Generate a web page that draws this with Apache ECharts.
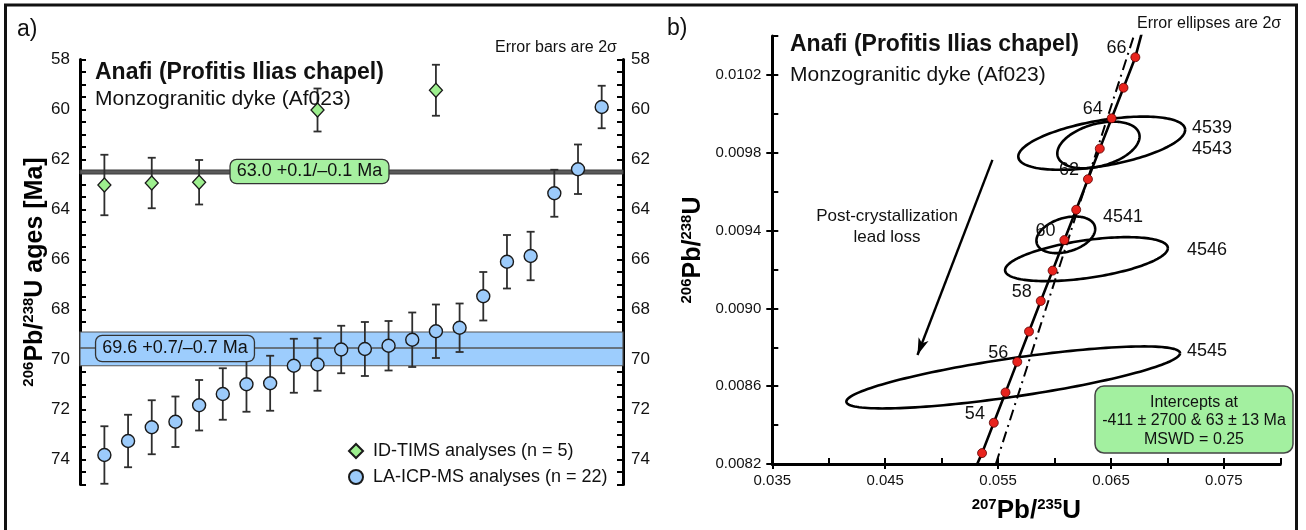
<!DOCTYPE html>
<html><head><meta charset="utf-8">
<script src="https://cdn.jsdelivr.net/npm/echarts@6/dist/echarts.min.js"></script>
<style>html,body{margin:0;padding:0;background:#fff}#c{width:1306px;height:530px}</style>
</head><body><div id="c"></div>
<script>
const FF = '"Liberation Sans", Arial, sans-serif';

// ---------- Panel a: 206Pb/238U ages ----------
const laRank = [1,2,3,4,5,6,7,8,9,10,11,12,13,14,15,16,17,18,19,20,21,22];
const laAge  = [73.82,73.26,72.71,72.49,71.83,71.38,70.99,70.95,70.25,70.20,69.60,69.58,69.45,69.21,68.87,68.73,67.47,66.09,65.86,63.35,62.39,59.90];
const laErr  = [1.15,1.05,1.08,1.01,1.01,1.03,1.10,1.10,1.08,1.05,0.95,1.08,0.99,1.09,1.07,0.97,0.97,1.07,0.97,0.94,0.99,0.85];
const timsRank = [1,3,5,10,15];
const timsAge  = [63.02,62.94,62.91,60.02,59.23];
const timsErr  = [1.21,1.01,0.89,0.86,1.02];
const timsBand = [62.42, 62.58];
const laMean = 69.55;
const laBand = [68.9, 70.25];
const ageTicks = [58,58.5,59,59.5,60,60.5,61,61.5,62,62.5,63,63.5,64,64.5,65,65.5,66,66.5,67,67.5,68,68.5,69,69.5,70,70.5,71,71.5,72,72.5,73,73.5,74,74.5,75];
const ageLabels = [58,60,62,64,66,68,70,72,74];

// ---------- Panel b: concordia ----------
const concAge = [53,54,55,56,57,58,59,60,61,62,63,64,65,66];
const concX = [0.05358,0.05462,0.05566,0.05670,0.05774,0.05878,0.05983,0.06087,0.06192,0.06296,0.06401,0.06506,0.06611,0.06716];
const concY = [0.008256,0.008412,0.008568,0.008725,0.008881,0.009038,0.009194,0.009351,0.009507,0.009664,0.009821,0.009977,0.010134,0.010291];
const concEndLow = [0.05315, 0.0082];
const concEndHigh = [0.06775, 0.01042];
const discX = [0.0548, 0.0673];
const discY = [0.0082, 0.01045];
const ellName = ['4539','4543','4541','4546','4545'];
const ellX   = [0.06418,0.06389,0.06100,0.06283,0.05634];
const ellY   = [0.009849,0.009840,0.009378,0.009253,0.008645];
const ellSx  = [0.00739,0.003644,0.002603,0.00721,0.01478];
const ellSy  = [0.0001368,0.0001198,0.0000941,0.0001131,0.0001594];
const ellRho = [0.5,0.36,0.32,0.5,0.78];
const arrowFrom = [0.0545, 0.009763];
const arrowTo = [0.04786, 0.00876];
const xTicks = [0.035,0.04,0.045,0.05,0.055,0.06,0.065,0.07,0.075,0.08];
const xLabels = [0.035,0.045,0.055,0.065,0.075];
const yTicks = [0.0082,0.0084,0.0086,0.0088,0.0090,0.0092,0.0094,0.0096,0.0098,0.0100,0.0102,0.0104];
const yLabels = [0.0082,0.0086,0.0090,0.0094,0.0098,0.0102];

const chart = echarts.init(document.getElementById('c'), null, {renderer:'canvas'});

function errRender(params, api){
  const x = api.value(0), lo = api.value(1), hi = api.value(2);
  const p1 = api.coord([x, lo]), p2 = api.coord([x, hi]);
  const w = 4, st = {stroke:'#2e2e2e', lineWidth:1.8};
  return {type:'group', children:[
    {type:'line', shape:{x1:p1[0],y1:p1[1],x2:p2[0],y2:p2[1]}, style:st},
    {type:'line', shape:{x1:p1[0]-w,y1:p1[1],x2:p1[0]+w,y2:p1[1]}, style:st},
    {type:'line', shape:{x1:p2[0]-w,y1:p2[1],x2:p2[0]+w,y2:p2[1]}, style:st}
  ]};
}
function ellRender(params, api){
  const x0=api.value(0), y0=api.value(1), sx=api.value(2), sy=api.value(3), r=api.value(4);
  const q = Math.sqrt(1-r*r), pts=[], n=160;
  for(let k=0;k<=n;k++){
    const t = 2*Math.PI*k/n;
    pts.push(api.coord([x0+sx*Math.cos(t), y0+sy*(r*Math.cos(t)+q*Math.sin(t))]));
  }
  return {type:'polyline', shape:{points:pts}, style:{stroke:'#000', lineWidth:2.6, fill:'none'}};
}

const axLine = {show:true, onZero:false, lineStyle:{color:'#000', width:3}};
const supRich = (fs, sfs) => ({
  b:{fontSize:fs, fontWeight:'bold', fontFamily:FF, color:'#000', lineHeight:fs+2},
  s:{fontSize:sfs, fontWeight:'bold', fontFamily:FF, color:'#000', lineHeight:sfs, verticalAlign:'top'}
});

const option = {
  animation:false,
  backgroundColor:'#fff',
  grid:[
    {left:80, top:59.5, width:543, height:425},
    {left:772.3, top:36, width:508, height:428}
  ],
  xAxis:[
    {gridIndex:0, type:'value', min:-0.03, max:22.9, show:false},
    {gridIndex:1, type:'value', min:0.035, max:0.08, position:'bottom',
      axisLine:axLine, splitLine:{show:false},
      axisTick:{show:true, inside:true, length:6, customValues:xTicks, lineStyle:{color:'#000', width:2}},
      axisLabel:{customValues:xLabels, formatter:v=>v.toFixed(3), fontSize:15, fontFamily:FF, color:'#111', margin:9},
      name:'{s|207}{b|Pb/}{s|235}{b|U}', nameLocation:'middle', nameGap:33,
      nameTextStyle:{rich:supRich(26,15)}},
    {gridIndex:1, type:'value', min:0.035, max:0.08, position:'bottom',
      axisLine:{show:false, onZero:false}, splitLine:{show:false}, axisLabel:{show:false},
      axisTick:{show:true, inside:false, length:5, customValues:xLabels, lineStyle:{color:'#000', width:2}}}
  ],
  yAxis:[
    {gridIndex:0, type:'value', inverse:true, min:58, max:75, position:'left',
      axisLine:axLine, splitLine:{show:false},
      axisTick:{show:true, inside:true, length:6, customValues:ageTicks, lineStyle:{color:'#000', width:2}},
      axisLabel:{customValues:ageLabels, fontSize:17, fontFamily:FF, color:'#111', margin:10},
      name:'{s|206}{b|Pb/}{s|238}{b|U ages [Ma]}', nameLocation:'middle', nameGap:30,
      nameTextStyle:{rich:supRich(25,15)}},
    {gridIndex:0, type:'value', inverse:true, min:58, max:75, position:'right',
      axisLine:axLine, splitLine:{show:false},
      axisTick:{show:true, inside:true, length:6, customValues:ageTicks, lineStyle:{color:'#000', width:2}},
      axisLabel:{customValues:ageLabels, fontSize:17, fontFamily:FF, color:'#111', margin:8}},
    {gridIndex:1, type:'value', min:0.0082, max:0.0104, position:'left',
      axisLine:axLine, splitLine:{show:false},
      axisTick:{show:true, inside:true, length:6, customValues:yTicks, lineStyle:{color:'#000', width:2}},
      axisLabel:{customValues:yLabels, formatter:v=>v.toFixed(4), fontSize:15, fontFamily:FF, color:'#111', margin:11},
      name:'{s|206}{b|Pb/}{s|238}{b|U}', nameLocation:'middle', nameGap:66,
      nameTextStyle:{rich:supRich(25,15)}},
    {gridIndex:1, type:'value', min:0.0082, max:0.0104, position:'left',
      axisLine:{show:false, onZero:false}, splitLine:{show:false}, axisLabel:{show:false},
      axisTick:{show:true, inside:false, length:6, customValues:yLabels, lineStyle:{color:'#000', width:2}}}
  ],
  legend:{
    left:343, top:437, orient:'vertical', itemWidth:14, itemHeight:14, itemGap:8,
    textStyle:{fontSize:18, fontFamily:FF, color:'#111', padding:[0,0,0,5]},
    data:['ID-TIMS analyses (n = 5)','LA-ICP-MS analyses (n = 22)']
  },
  series:[
    {type:'custom', name:'laErr', xAxisIndex:0, yAxisIndex:0, z:8, renderItem:errRender,
      encode:{x:0, y:[1,2]},
      data:laRank.map((r,i)=>[r, laAge[i]-laErr[i], laAge[i]+laErr[i]]),
      markArea:{silent:true, z:1, data:[
        [{yAxis:laBand[0], itemStyle:{color:'#9dcdfd', borderColor:'#555', borderWidth:1.2}},{yAxis:laBand[1]}],
        [{yAxis:timsBand[0], itemStyle:{color:'#5a5a5a', borderColor:'#3a3a3a', borderWidth:1}},{yAxis:timsBand[1]}]
      ]},
      markLine:{silent:true, z:2, symbol:['none','none'], label:{show:false},
        lineStyle:{type:'solid', color:'#555', width:1.5},
        data:[{yAxis:laMean}]}
    },
    {type:'custom', name:'timsErr', xAxisIndex:0, yAxisIndex:0, z:8, renderItem:errRender,
      encode:{x:0, y:[1,2]},
      data:timsRank.map((r,i)=>[r, timsAge[i]-timsErr[i], timsAge[i]+timsErr[i]])},
    {type:'scatter', name:'LA-ICP-MS analyses (n = 22)', xAxisIndex:0, yAxisIndex:0, z:10,
      symbol:'circle', symbolSize:13,
      itemStyle:{color:'#9ccbfb', borderColor:'#1a1a1a', borderWidth:1.4, opacity:1},
      data:laRank.map((r,i)=>[r, laAge[i]])},
    {type:'scatter', name:'ID-TIMS analyses (n = 5)', xAxisIndex:0, yAxisIndex:0, z:10,
      symbol:'diamond', symbolSize:[13,14],
      itemStyle:{color:'#9def8e', borderColor:'#1a1a1a', borderWidth:1.3, opacity:1},
      data:timsRank.map((r,i)=>[r, timsAge[i]])},

    {type:'custom', name:'ellipses', xAxisIndex:1, yAxisIndex:2, z:4, renderItem:ellRender,
      encode:{x:0, y:1},
      data:ellName.map((n,i)=>[ellX[i], ellY[i], ellSx[i], ellSy[i], ellRho[i]])},
    {type:'line', name:'concordia', xAxisIndex:1, yAxisIndex:2, z:5, symbol:'none', clip:true,
      lineStyle:{color:'#000', width:2.6},
      data:[concEndLow].concat(concX.map((x,i)=>[x, concY[i]])).concat([concEndHigh]),
      markLine:{silent:true, symbol:['none','arrow'], symbolSize:[8,17], label:{show:false},
        lineStyle:{type:'solid', color:'#000', width:2.4},
        data:[[{coord:arrowFrom},{coord:arrowTo}]]}
    },
    {type:'line', name:'discordia', xAxisIndex:1, yAxisIndex:2, z:5, symbol:'none', clip:true,
      lineStyle:{color:'#000', width:2, type:[11,5,2,5]},
      data:discX.map((x,i)=>[x, discY[i]])},
    {type:'scatter', name:'ages', xAxisIndex:1, yAxisIndex:2, z:7, symbol:'circle', symbolSize:9,
      itemStyle:{color:'#e8231d', borderColor:'#5a0000', borderWidth:0.8, opacity:1},
      label:{show:true, position:'left', distance:4, offset:[0,-9], fontSize:18, fontFamily:FF, color:'#111',
        formatter:p=>(p.value[2]%2===0 ? String(p.value[2]) : '')},
      data:concAge.map((a,i)=>[concX[i], concY[i], a])}
  ],
  graphic:[
    {type:'rect', z:100, shape:{x:5.5, y:5, width:1291, height:540}, style:{fill:'none', stroke:'#111', lineWidth:3}},
    {type:'text', z:50, style:{text:'a)', x:17, y:30, font:'23px '+FF, fill:'#111', textVerticalAlign:'middle'}},
    {type:'text', z:50, style:{text:'b)', x:667, y:29, font:'23px '+FF, fill:'#111', textVerticalAlign:'middle'}},
    {type:'text', z:50, style:{text:'Anafi (Profitis Ilias chapel)', x:95, y:73, font:'bold 23px '+FF, fill:'#111', textVerticalAlign:'middle'}},
    {type:'text', z:50, style:{text:'Monzogranitic dyke (Af023)', x:95, y:99, font:'21px '+FF, fill:'#111', textVerticalAlign:'middle'}},
    {type:'text', z:50, style:{text:'Error bars are 2σ', x:495, y:48, font:'16px '+FF, fill:'#111', textVerticalAlign:'middle'}},
    {type:'text', z:50, style:{text:'63.0 +0.1/–0.1 Ma', x:309.5, y:171.5, font:'18px '+FF, fill:'#111',
      textAlign:'center', textVerticalAlign:'middle', backgroundColor:'#a6f0a0', borderColor:'#333', borderWidth:1.3, borderRadius:6, padding:[3,6,2,6]}},
    {type:'text', z:50, style:{text:'69.6 +0.7/–0.7 Ma', x:175, y:348.5, font:'18px '+FF, fill:'#111',
      textAlign:'center', textVerticalAlign:'middle', backgroundColor:'#9dcdfd', borderColor:'#333', borderWidth:1.3, borderRadius:6, padding:[4,6,3,6]}},

    {type:'text', z:50, style:{text:'Anafi (Profitis Ilias chapel)', x:790, y:45, font:'bold 23px '+FF, fill:'#111', textVerticalAlign:'middle'}},
    {type:'text', z:50, style:{text:'Monzogranitic dyke (Af023)', x:790, y:75, font:'21px '+FF, fill:'#111', textVerticalAlign:'middle'}},
    {type:'text', z:50, style:{text:'Error ellipses are 2σ', x:1137, y:24, font:'16px '+FF, fill:'#111', textVerticalAlign:'middle'}},
    {type:'text', z:50, style:{text:'Post-crystallization\nlead loss', x:887, y:227, font:'17px '+FF, fill:'#111', textAlign:'center', textVerticalAlign:'middle', lineHeight:21.5}},
    {type:'text', z:50, style:{text:'4539', x:1192, y:128, font:'18px '+FF, fill:'#111', textVerticalAlign:'middle'}},
    {type:'text', z:50, style:{text:'4543', x:1192, y:149, font:'18px '+FF, fill:'#111', textVerticalAlign:'middle'}},
    {type:'text', z:50, style:{text:'4541', x:1103, y:217, font:'18px '+FF, fill:'#111', textVerticalAlign:'middle'}},
    {type:'text', z:50, style:{text:'4546', x:1187, y:250, font:'18px '+FF, fill:'#111', textVerticalAlign:'middle'}},
    {type:'text', z:50, style:{text:'4545', x:1187, y:351, font:'18px '+FF, fill:'#111', textVerticalAlign:'middle'}},
    {type:'rect', z:50, shape:{x:1095, y:386, width:198, height:67, r:9}, style:{fill:'#a3f0a0', stroke:'#444', lineWidth:1.5}},
    {type:'text', z:51, style:{text:'Intercepts at\n-411 ± 2700 & 63 ± 13 Ma\nMSWD = 0.25', x:1194, y:421, font:'16px '+FF, fill:'#111', textAlign:'center', textVerticalAlign:'middle', lineHeight:18.5}}
  ]
};
chart.setOption(option);
</script>
</body></html>
